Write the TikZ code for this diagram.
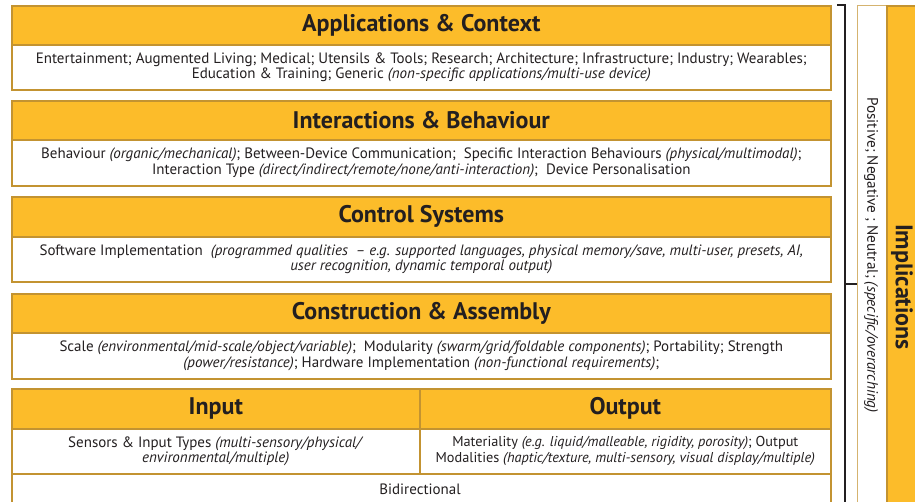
\documentclass[tikz,border=0pt]{standalone}
\usepackage{fontspec}
\setmainfont{PT Sans}
\definecolor{org}{HTML}{FCBC2A}
\definecolor{gold}{HTML}{C39331}
\definecolor{txt}{HTML}{231F20}
\begin{document}
\begin{tikzpicture}[x=1pt,y=-1pt,
  hdr/.style={draw=gold, fill=org, line width=1.6pt, anchor=north west, inner sep=0pt,
    font=\fontsize{24}{28}\selectfont\bfseries, text=txt},
  body/.style={draw=gold, fill=white, line width=1.6pt, anchor=north west, inner sep=0pt,
    align=center, font=\fontsize{15}{15.7}\selectfont, text=txt},
  vtext/.style={rotate=-90, text=txt, inner sep=0pt},
  brk/.style={draw=txt, line width=1.1pt},
]
\useasboundingbox (0,0) rectangle (915,502);
\clip (0,0) rectangle (915,502);

% Box 1
\node[hdr, minimum width=819pt, minimum height=39pt] (h1) at (11,5) {Applications \& Context};
\node[body, minimum width=819pt, minimum height=45pt] (b1) at (11,44)
 {Entertainment; Augmented Living; Medical; Utensils \& Tools; Research; Architecture; Infrastructure; Industry; Wearables;\\
  Education \& Training; Generic \textit{(non-specific applications/multi-use device)}};

% Box 2
\node[hdr, minimum width=819pt, minimum height=39pt] (h2) at (11,100) {Interactions \& Behaviour};
\node[body, minimum width=819pt, minimum height=46pt] (b2) at (11,139)
 {Behaviour \textit{(organic/mechanical)}; Between-Device Communication;\ \ Specific Interaction Behaviours \textit{(physical/multimodal)};\\
  Interaction Type \textit{(direct/indirect/remote/none/anti-interaction)};\ \ Device Personalisation};

% Box 3
\node[hdr, minimum width=819pt, minimum height=40pt] (h3) at (11,196) {Control Systems};
\node[body, minimum width=819pt, minimum height=45pt] (b3) at (11,236)
 {Software Implementation\ \ \textit{(programmed qualities\ \ -- e.g. supported languages, physical memory/save, multi-user, presets, AI,}\\
  \textit{user recognition, dynamic temporal output)}};

% Box 4
\node[hdr, minimum width=819pt, minimum height=39pt] (h4) at (11,293) {Construction \& Assembly};
\node[body, minimum width=819pt, minimum height=46pt] (b4) at (11,332)
 {Scale \textit{(environmental/mid-scale/object/variable)};\ \ Modularity \textit{(swarm/grid/foldable components)}; Portability; Strength\\
  \textit{(power/resistance)}; Hardware Implementation \textit{(non-functional requirements)};};

% Box 5
\node[hdr, minimum width=408pt, minimum height=40pt] (hin) at (11,388) {Input};
\node[hdr, minimum width=411pt, minimum height=40pt] (hout) at (419,388) {Output};
\node[body, minimum width=408pt, minimum height=45pt] (bin) at (11,428)
 {Sensors \& Input Types \textit{(multi-sensory/physical/}\\ \textit{environmental/multiple)}};
\node[body, minimum width=411pt, minimum height=45pt, font=\fontsize{14.3}{15.7}\selectfont] (bout) at (419,428)
 {Materiality \textit{(e.g. liquid/malleable, rigidity, porosity)}; Output\\
  Modalities \textit{(haptic/texture, multi-sensory, visual display/multiple)}};
\node[body, minimum width=819pt, minimum height=40pt, anchor=north west] (bid) at (11,473) {};
\node[text=txt, font=\fontsize{15}{15.7}\selectfont] (bidt) at (420,489) {Bidirectional};

% Bracket
\coordinate (bt) at (837,5);
\coordinate (bc) at (845,5);
\coordinate (bb) at (845,515);
\coordinate (bm) at (845,284);
\coordinate (bmr) at (857,284);
\draw[brk] (bt) -- (bc) -- (bb);
\draw[brk] (bm) -- (bmr);

% Right column
\node[draw=gold!70, fill=white, line width=1.2pt, anchor=north west, inner sep=0pt,
  minimum width=29pt, minimum height=520pt] (wcol) at (857,5) {};
\node[draw=gold, fill=org, line width=1.6pt, anchor=north west, inner sep=0pt,
  minimum width=40pt, minimum height=520pt] (ocol) at (886,5) {};
\node[vtext, font=\fontsize{15.2}{17}\selectfont] (pn) at (871,255)
 {Positive; Negative ; Neutral; \textit{(specific/overarching)}};
\node[vtext, font=\fontsize{24}{28}\selectfont\bfseries] (impl) at (902,287) {Implications};
\end{tikzpicture}
\end{document}
